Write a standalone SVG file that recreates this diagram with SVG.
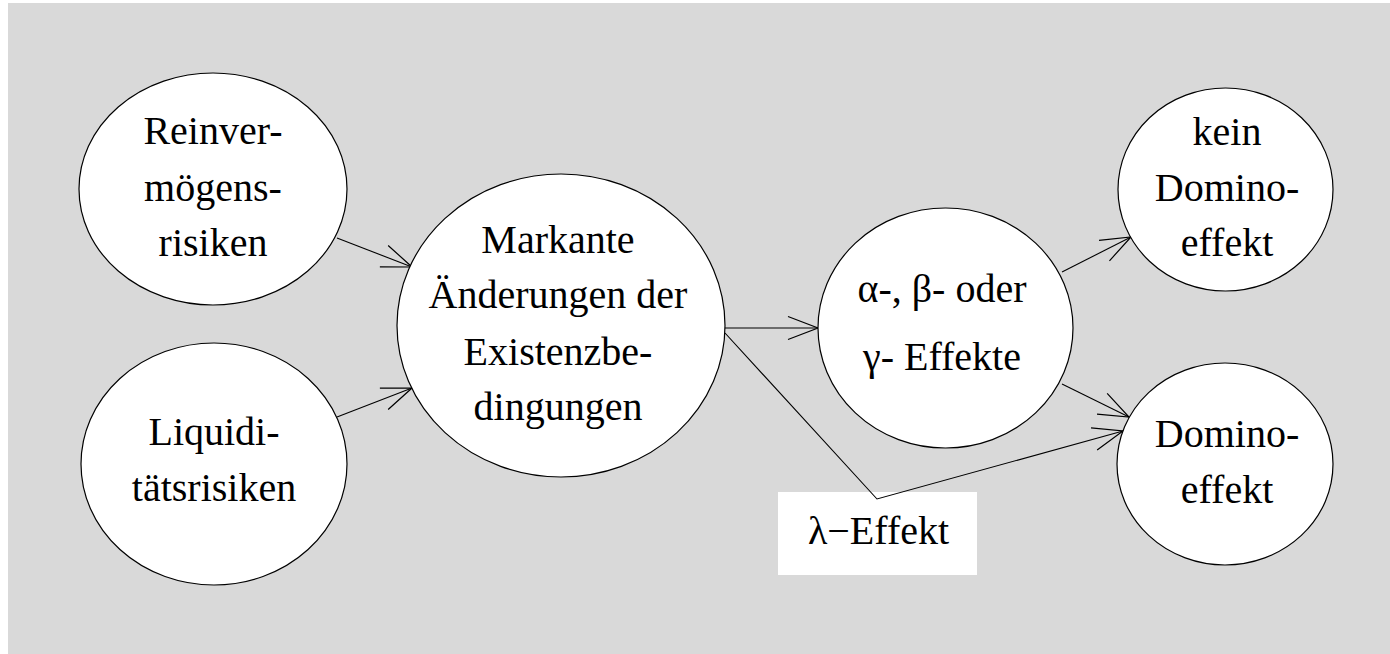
<svg xmlns="http://www.w3.org/2000/svg" width="1390" height="654" viewBox="0 0 1390 654">
<defs>
<marker id="arr" markerUnits="userSpaceOnUse" orient="auto" refX="0" refY="0" viewBox="-32 -13 34 26" markerWidth="34" markerHeight="26" overflow="visible">
<path d="M-30,-11.5 L0,0 L-30,11.5" fill="none" stroke="#000" stroke-width="1.2"/>
</marker>
</defs>
<style>
.node ellipse{fill:#fff;stroke:#000;stroke-width:1.2}
text{font-family:'Liberation Serif','Times New Roman',Times,serif;font-size:40px;fill:#000;text-anchor:middle}
.edge{fill:none;stroke:#000;stroke-width:1.1;marker-end:url(#arr)}
</style>
<rect x="8" y="3" width="1382" height="651" fill="#d9d9d9"/>
<g id="connectors">
<line class="edge" x1="337" y1="238" x2="412" y2="267"/>
<line class="edge" x1="337" y1="417" x2="412" y2="388"/>
<line class="edge" x1="725" y1="328" x2="818" y2="328"/>
<line class="edge" x1="1062" y1="272" x2="1131" y2="237"/>
<line class="edge" x1="1062" y1="384" x2="1129" y2="417"/>
</g>
<g id="lambda-label" font-family="Liberation Serif, serif">
<rect x="778" y="492" width="199" height="83" fill="#fff"/>
<text x="878.5" y="544">λ−Effekt</text>
</g>
<g id="lambda-connector">
<polyline class="edge" points="725,333 877,499 1123,431"/>
</g>
<g id="n-reinvermoegen" class="node" font-family="Liberation Serif, serif">
<ellipse cx="213" cy="189" rx="134" ry="116"/>
<text x="213" y="144">Reinver-</text>
<text x="213" y="201">mögens-</text>
<text x="213" y="256">risiken</text>
</g>
<g id="n-liquiditaet" class="node" font-family="Liberation Serif, serif">
<ellipse cx="214" cy="464" rx="133" ry="121"/>
<text x="214" y="445">Liquidi-</text>
<text x="214" y="501">tätsrisiken</text>
</g>
<g id="n-markante" class="node" font-family="Liberation Serif, serif">
<ellipse cx="561" cy="325.5" rx="164" ry="151.5"/>
<text x="558" y="253">Markante</text>
<text x="558" y="308">Änderungen der</text>
<text x="558" y="365">Existenzbe-</text>
<text x="558" y="420">dingungen</text>
</g>
<g id="n-effekte" class="node" font-family="Liberation Serif, serif">
<ellipse cx="945.5" cy="328" rx="127.5" ry="120"/>
<text x="942" y="302">α-, β- oder</text>
<text x="942" y="370">γ- Effekte</text>
</g>
<g id="n-kein-domino" class="node" font-family="Liberation Serif, serif">
<ellipse cx="1225.5" cy="189.5" rx="107.5" ry="101.5"/>
<text x="1227" y="145">kein</text>
<text x="1227" y="201">Domino-</text>
<text x="1227" y="256">effekt</text>
</g>
<g id="n-domino" class="node" font-family="Liberation Serif, serif">
<ellipse cx="1225" cy="464" rx="108" ry="101"/>
<text x="1227" y="447">Domino-</text>
<text x="1227" y="503">effekt</text>
</g>
</svg>
